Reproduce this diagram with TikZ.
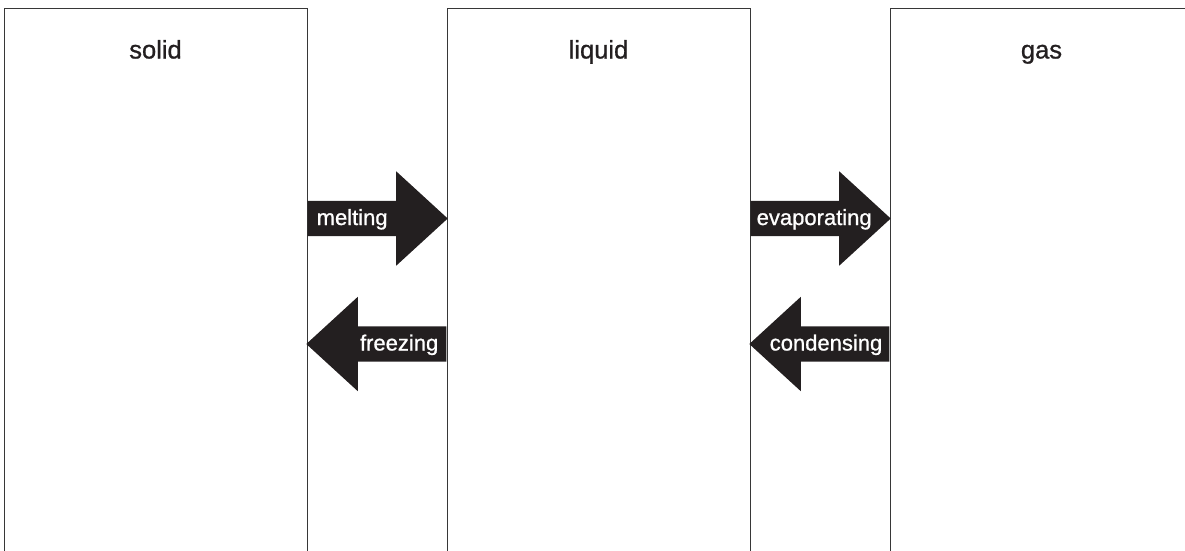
\documentclass[tikz,border=0pt]{standalone}
\usepackage{fontspec}
\setmainfont[FakeBold=0.9]{Liberation Sans}
\usetikzlibrary{positioning,shapes.arrows}
\definecolor{inkblack}{RGB}{35,31,32}
\definecolor{linegray}{RGB}{55,55,55}

\begin{document}
\begin{tikzpicture}[
    x=1pt, y=-1pt,
    phase/.style={rectangle, draw=linegray, line width=1pt, minimum width=303pt, minimum height=600pt, inner sep=0pt},
    title/.style={anchor=base, text=inkblack, font=\fontsize{25.5}{30}\selectfont},
    change/.style={single arrow, fill=inkblack, inner sep=0pt, text height=24pt, text depth=11pt, minimum height=140pt, single arrow head extend=29.5pt, single arrow tip angle=85},
    changetext/.style={text=white, inner sep=0pt, text height=24pt, text depth=11pt, font=\fontsize{22}{26}\selectfont}
]
\useasboundingbox (0,0) rectangle (1185,550);
\clip (0,0) rectangle (1185,550);

% the three phases, open at the bottom
\node[phase] (solid) at (155.5,308) {};
\node[phase] (liquid) at (598.5,308) {};
\node[phase] (gas) at (1041.5,308) {};

\node[title] (solidtitle) at ([yshift=-51pt]solid.north) {solid};
\node[title] (liquidtitle) at ([yshift=-51pt]liquid.north) {liquid};
\node[title] (gastitle) at ([yshift=-51pt]gas.north) {gas};

% changes of state
\node[change, anchor=tail] (melt) at (solid.east |- 0,218.5) {};
\node[change, anchor=tail, shape border rotate=180] (freeze) at (liquid.west |- 0,344) {};
\node[change, anchor=tail] (evap) at (liquid.east |- 0,218.5) {};
\node[change, anchor=tail, shape border rotate=180] (condense) at (gas.west |- 0,344) {};

\node[changetext, right=9pt of melt.tail] (melttext) {melting};
\node[changetext, left=8pt of freeze.tail] (freezetext) {freezing};
\node[changetext, right=6pt of evap.tail] (evaptext) {evaporating};
\node[changetext, left=7pt of condense.tail] (condensetext) {condensing};
\end{tikzpicture}
\end{document}
